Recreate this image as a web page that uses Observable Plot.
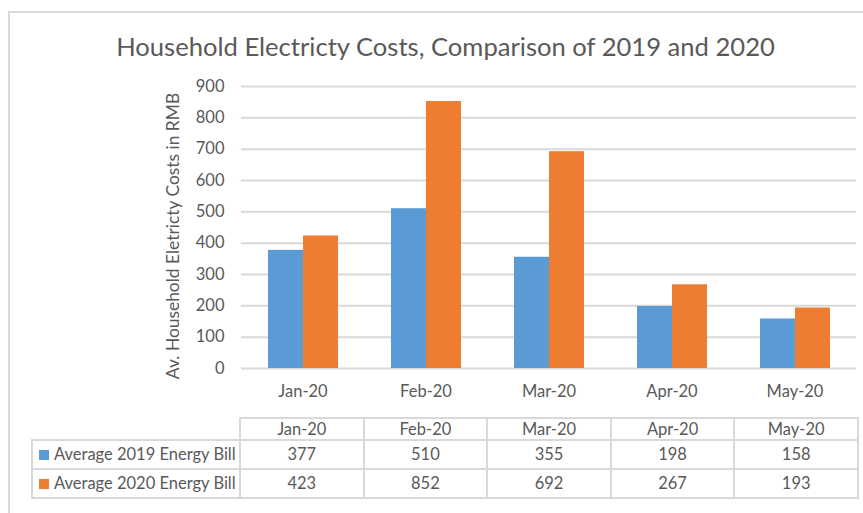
<!DOCTYPE html>
<html>
<head>
<meta charset="utf-8">
<script src="https://cdn.jsdelivr.net/npm/d3@7"></script>
<script src="https://cdn.jsdelivr.net/npm/@observablehq/plot@0.6"></script>
<style>
  body { margin: 0; background: #fff; }
  #wrap { position: relative; width: 863px; height: 513px; overflow: hidden; font-family: Lato, sans-serif; color: #595959; }
  #frame { position: absolute; left: 8px; top: 11px; width: 1000px; height: 1000px; border-left: 2px solid #D9D9D9; border-top: 2px solid #D9D9D9; box-sizing: border-box; }
  #title { position: absolute; left: 0; top: 31px; width: 891px; text-align: center; font-size: 25.6px; line-height: 30px; white-space: nowrap; }
  #ylabel { position: absolute; left: 173px; top: 236px; transform: translate(-50%, -50%) rotate(-90deg); font-size: 17.4px; white-space: nowrap; line-height: 20px; }
  #chart { position: absolute; left: 0; top: 0; }
  #tbl { position: absolute; left: 31px; top: 417px; border-collapse: collapse; font-size: 16.5px; table-layout: fixed; }
  #tbl td { border: 2px solid #D9D9D9; padding: 0; text-align: center; white-space: nowrap; line-height: 18px; }
  #tbl td.lab { text-align: left; padding-left: 6px; }
  #tbl td.blank { border-top: none; border-left: none; }
  .key { display: inline-block; width: 10px; height: 10px; margin-right: 5px; vertical-align: 0px; }
</style>
</head>
<body>
<div id="wrap">
  <div id="frame"></div>
  <div id="title">Household Electricty Costs, Comparison of 2019 and 2020</div>
  <div id="chart"></div>
  <div id="ylabel">Av. Household Eletricty Costs in RMB</div>
  <table id="tbl"></table>
</div>
<script>
const months = ["Jan-20", "Feb-20", "Mar-20", "Apr-20", "May-20"];
const seriesNames = ["Average 2019 Energy Bill", "Average 2020 Energy Bill"];
const values2019 = [377, 510, 355, 198, 158];
const values2020 = [423, 852, 692, 267, 193];
const seriesColors = ["#5B9BD5", "#ED7D31"];
const yTicks = [0, 100, 200, 300, 400, 500, 600, 700, 800, 900];

const data = [];
months.forEach((m, i) => {
  data.push({month: m, series: seriesNames[0], value: values2019[i]});
  data.push({month: m, series: seriesNames[1], value: values2020[i]});
});

const chart = Plot.plot({
  width: 863,
  height: 410,
  marginLeft: 239,
  marginRight: 6,
  marginTop: 86,
  marginBottom: 42,
  style: {fontFamily: "Lato, sans-serif", fontSize: "16.5px", color: "#595959", background: "transparent", overflow: "visible"},
  fx: {domain: months, padding: 0, label: null, axis: "bottom", tickSize: 0, tickPadding: 17},
  x: {domain: seriesNames, paddingInner: 0, paddingOuter: 0.74, axis: null},
  y: {domain: [0, 900], ticks: yTicks, label: null, tickSize: 0, tickPadding: 17},
  color: {domain: seriesNames, range: seriesColors},
  marks: [
    Plot.ruleY(yTicks, {stroke: "#D9D9D9", strokeWidth: 2}),
    Plot.barY(data, {fx: "month", x: "series", y: "value", fill: "series"})
  ]
});
document.getElementById("chart").appendChild(chart);

// data table
const tbl = document.getElementById("tbl");
const colW = (857 - 239) / months.length;
let html = `<colgroup><col style="width:208px">${months.map(() => `<col style="width:${colW}px">`).join("")}</colgroup>`;
html += `<tr style="height:22px"><td class="blank"></td>${months.map(m => `<td>${m}</td>`).join("")}</tr>`;
const rows = [values2019, values2020];
rows.forEach((vals, k) => {
  html += `<tr style="height:${k === 0 ? 28.7 : 29}px"><td class="lab"><span class="key" style="background:${seriesColors[k]}"></span>${seriesNames[k]}</td>${vals.map(v => `<td>${v}</td>`).join("")}</tr>`;
});
tbl.innerHTML = html;
</script>
</body>
</html>
